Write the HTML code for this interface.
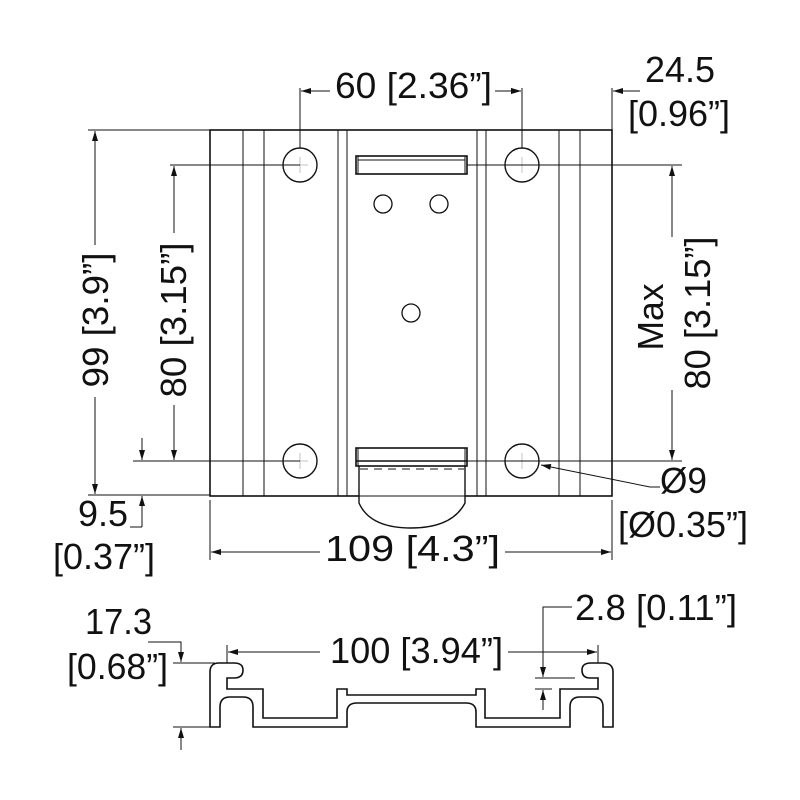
<!DOCTYPE html>
<html><head><meta charset="utf-8"><style>
html,body{margin:0;padding:0;background:#fff}
svg{display:block}
</style></head><body>
<svg width="800" height="800" viewBox="0 0 800 800" xmlns="http://www.w3.org/2000/svg">
<defs>
<marker id="a" viewBox="0 0 10 6" refX="10" refY="3" markerWidth="10" markerHeight="6" markerUnits="userSpaceOnUse" orient="auto"><path d="M0,0 L10,3 L0,6 z" fill="#111"/></marker>
</defs>
<g fill="none" stroke="#111" stroke-width="1">
<rect x="210" y="130" width="402" height="366" stroke-width="1.6"/>
<line x1="243" y1="130" x2="243" y2="496"/><line x1="264" y1="130" x2="264" y2="496"/>
<line x1="338" y1="130" x2="338" y2="496"/><line x1="347" y1="130" x2="347" y2="496"/>
<line x1="477" y1="130" x2="477" y2="496"/><line x1="486" y1="130" x2="486" y2="496"/>
<line x1="559" y1="130" x2="559" y2="496"/><line x1="580" y1="130" x2="580" y2="496"/>
<circle cx="300" cy="165" r="17" fill="#fff" stroke-width="1.4"/>
<circle cx="522" cy="165" r="17" fill="#fff" stroke-width="1.4"/>
<circle cx="300" cy="461" r="17" fill="#fff" stroke-width="1.4"/>
<circle cx="522" cy="461" r="17" fill="#fff" stroke-width="1.4"/>
<g stroke="#aaa" stroke-width="0.7">
<line x1="292" y1="165" x2="308" y2="165"/><line x1="300" y1="157" x2="300" y2="173"/>
<line x1="514" y1="165" x2="530" y2="165"/><line x1="522" y1="157" x2="522" y2="173"/>
<line x1="292" y1="461" x2="308" y2="461"/><line x1="300" y1="453" x2="300" y2="469"/>
<line x1="514" y1="461" x2="530" y2="461"/><line x1="522" y1="453" x2="522" y2="469"/>
</g>
<circle cx="383" cy="204" r="9" stroke-width="1.3"/>
<circle cx="439" cy="204" r="9" stroke-width="1.3"/>
<circle cx="411" cy="313" r="9" stroke-width="1.3"/>
<rect x="356" y="156" width="111" height="18" fill="#fff" stroke-width="1.6"/>
<line x1="358" y1="160" x2="465" y2="160"/>
<line x1="358" y1="156" x2="358" y2="174"/><line x1="465" y1="156" x2="465" y2="174"/>
<path d="M359,466 L359,503 Q370,528 411,528 Q452,528 465,503 L465,466" fill="#fff" stroke-width="1.4"/>
<rect x="356" y="448" width="111" height="18" fill="#fff" stroke-width="1.6"/>
<line x1="356" y1="461" x2="467" y2="461" stroke-width="1.4"/>
<line x1="358" y1="448" x2="358" y2="466"/><line x1="465" y1="448" x2="465" y2="466"/>
<line x1="360" y1="469" x2="464" y2="469" stroke-dasharray="8,6"/>
<line x1="359" y1="496" x2="465" y2="496"/>

<line x1="300" y1="88" x2="300" y2="148"/><line x1="522" y1="88" x2="522" y2="148"/>
<line x1="330" y1="91" x2="301" y2="91" marker-end="url(#a)"/>
<line x1="495" y1="91" x2="521" y2="91" marker-end="url(#a)"/>
<line x1="612" y1="88" x2="612" y2="130"/>
<line x1="500" y1="91" x2="521" y2="91" marker-end="url(#a)"/>
<line x1="640" y1="91" x2="613" y2="91" marker-end="url(#a)"/>
<line x1="88" y1="130" x2="210" y2="130"/><line x1="88" y1="495" x2="210" y2="495"/>
<line x1="95" y1="245" x2="95" y2="131" marker-end="url(#a)"/>
<line x1="95" y1="397" x2="95" y2="494" marker-end="url(#a)"/>
<line x1="170" y1="165" x2="300" y2="165"/><line x1="133" y1="461" x2="300" y2="461"/>
<line x1="174" y1="233" x2="174" y2="166" marker-end="url(#a)"/>
<line x1="174" y1="405" x2="174" y2="460" marker-end="url(#a)"/>
<line x1="142" y1="438" x2="142" y2="460" marker-end="url(#a)"/>
<line x1="142" y1="527" x2="142" y2="496" marker-end="url(#a)"/>
<line x1="130" y1="527" x2="142" y2="527"/>
<line x1="467" y1="165" x2="682" y2="165"/><line x1="467" y1="461" x2="682" y2="461"/>
<line x1="672" y1="237" x2="672" y2="166" marker-end="url(#a)"/>
<line x1="672" y1="390" x2="672" y2="460" marker-end="url(#a)"/>
<polyline points="660,487 650,487 541,465" marker-end="url(#a)"/>
<line x1="210" y1="500" x2="210" y2="560"/><line x1="612" y1="500" x2="612" y2="560"/>
<line x1="320" y1="552" x2="211" y2="552" marker-end="url(#a)"/>
<line x1="505" y1="552" x2="611" y2="552" marker-end="url(#a)"/>

<path stroke-width="1.6" d="M210,727 L210,672 Q210,663 219,663 L234,663 Q243,663 243,670 Q243,678 234,678 L227,678 L227,689 L263,689 L263,718 L337,718 L337,689 L347,689 L347,695 L476,695 L476,689 L485,689 L485,718 L560,718 L560,689 L598,689 L598,678 L590,678 Q582,678 582,670 Q582,663 591,663 L603,663 Q613,663 613,672 L613,727 L603,727 L603,707 Q603,697 593,697 L580,697 Q570,697 570,707 L570,727 L476,727 L476,712 Q476,703 466,703 L357,703 Q347,703 347,712 L347,727 L253,727 L253,707 Q253,697 243,697 L230,697 Q220,697 220,707 L220,727 Z"/>
<polyline points="148,642 181,642 181,662" marker-end="url(#a)"/>
<line x1="173" y1="663" x2="215" y2="663"/>
<line x1="173" y1="727" x2="210" y2="727"/>
<line x1="181" y1="750" x2="181" y2="728" marker-end="url(#a)"/>
<line x1="227" y1="645" x2="227" y2="663"/><line x1="598" y1="645" x2="598" y2="663"/>
<line x1="320" y1="652" x2="228" y2="652" marker-end="url(#a)"/>
<line x1="508" y1="652" x2="597" y2="652" marker-end="url(#a)"/>
<polyline points="572,607 543,607 543,677" marker-end="url(#a)"/>
<line x1="535" y1="678" x2="575" y2="678"/>
<line x1="535" y1="689" x2="552" y2="689"/>
<line x1="543" y1="710" x2="543" y2="690" marker-end="url(#a)"/>
</g>

<g font-family="Liberation Sans, Arial, sans-serif" font-size="36" fill="#111" style="font-size:36px">
<text x="335" y="98" textLength="157" lengthAdjust="spacingAndGlyphs">60 [2.36”]</text>
<text x="645" y="82" textLength="70" lengthAdjust="spacingAndGlyphs">24.5</text>
<text x="628" y="126" textLength="102" lengthAdjust="spacingAndGlyphs">[0.96”]</text>
<text transform="translate(108,320) rotate(-90)" text-anchor="middle" textLength="135" lengthAdjust="spacingAndGlyphs">99 [3.9”]</text>
<text transform="translate(186,320) rotate(-90)" text-anchor="middle" textLength="155" lengthAdjust="spacingAndGlyphs">80 [3.15”]</text>
<text transform="translate(663,317) rotate(-90)" text-anchor="middle" textLength="67" lengthAdjust="spacingAndGlyphs">Max</text>
<text transform="translate(710,313) rotate(-90)" text-anchor="middle" textLength="153" lengthAdjust="spacingAndGlyphs">80 [3.15”]</text>
<text x="660" y="493" textLength="47" lengthAdjust="spacingAndGlyphs">Ø9</text>
<text x="618" y="537" textLength="130" lengthAdjust="spacingAndGlyphs">[Ø0.35”]</text>
<text x="78" y="526" textLength="50" lengthAdjust="spacingAndGlyphs">9.5</text>
<text x="53" y="569" textLength="102" lengthAdjust="spacingAndGlyphs">[0.37”]</text>
<text x="325" y="561" textLength="175" lengthAdjust="spacingAndGlyphs">109 [4.3”]</text>
<text x="85" y="634" textLength="67" lengthAdjust="spacingAndGlyphs">17.3</text>
<text x="67" y="679" textLength="101" lengthAdjust="spacingAndGlyphs">[0.68”]</text>
<text x="330" y="663" textLength="173" lengthAdjust="spacingAndGlyphs">100 [3.94”]</text>
<text x="575" y="620" textLength="162" lengthAdjust="spacingAndGlyphs">2.8 [0.11”]</text>
</g>
</svg>
</body></html>
